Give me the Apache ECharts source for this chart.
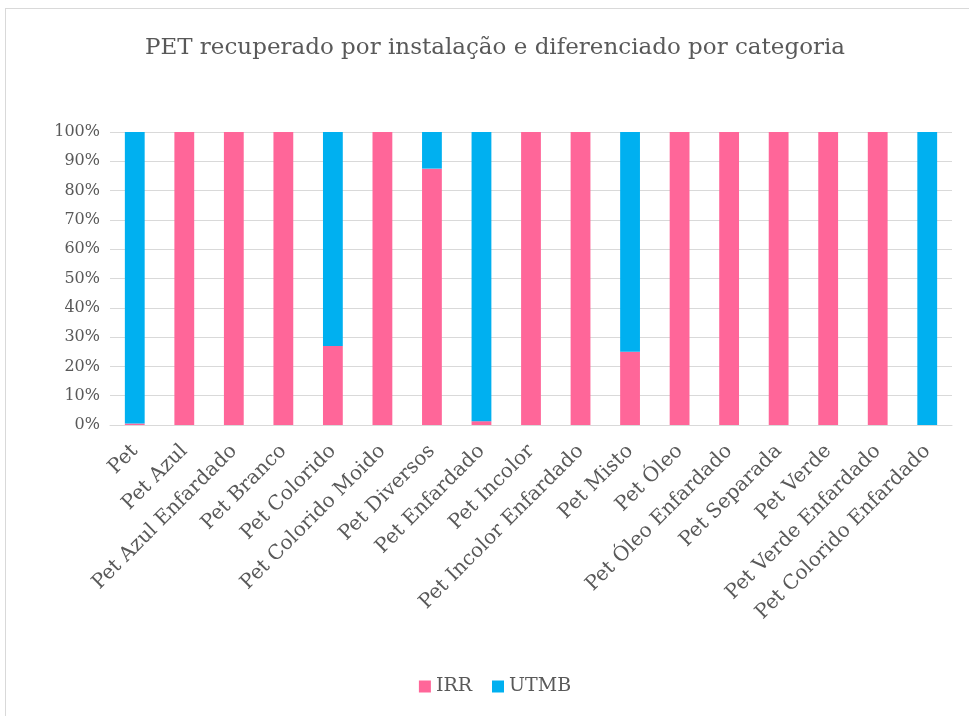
<!DOCTYPE html>
<html>
<head>
<meta charset="utf-8">
<script src="https://cdn.jsdelivr.net/npm/echarts@6/dist/echarts.min.js"></script>
<style>
  html, body { margin: 0; padding: 0; background: #fff; overflow: hidden; }
  #frame { position: absolute; left: 5px; top: 8px; width: 980px; height: 720px; border: 1px solid #d9d9d9; box-sizing: border-box; }
  #chart { position: absolute; left: 0; top: 0; width: 990px; height: 716px; }
</style>
</head>
<body>
<div id="frame"></div>
<div id="chart"></div>
<script>
const categories = [
  'Pet', 'Pet Azul', 'Pet Azul Enfardado', 'Pet Branco', 'Pet Colorido',
  'Pet Colorido Moido', 'Pet Diversos', 'Pet Enfardado', 'Pet Incolor',
  'Pet Incolor Enfardado', 'Pet Misto', 'Pet Óleo', 'Pet Óleo Enfardado',
  'Pet Separada', 'Pet Verde', 'Pet Verde Enfardado', 'Pet Colorido Enfardado'
]
const irr = [0.5, 100, 100, 100, 27, 100, 87.5, 1.3, 100, 100, 25, 100, 100, 100, 100, 100, 0]
const utmb = [99.5, 0, 0, 0, 73, 0, 12.5, 98.7, 0, 0, 75, 0, 0, 0, 0, 0, 100]

const font = 'DejaVu Serif'
const textColor = '#595959'

const myChart = echarts.init(document.getElementById('chart'), null, { renderer: 'canvas' })

const option = {
  animation: false,
  title: {
    text: 'PET recuperado por instalação e diferenciado por categoria',
    left: 'center',
    top: 32,
    textStyle: { fontFamily: font, fontSize: 23, fontWeight: 'normal', color: textColor }
  },
  legend: {
    bottom: 15,
    left: 'center',
    itemWidth: 12,
    itemHeight: 12,
    itemGap: 20,
    icon: 'rect',
    textStyle: { fontFamily: font, fontSize: 19, color: textColor },
    data: ['IRR', 'UTMB']
  },
  grid: { left: 110, right: 38, top: 132, bottom: 291, containLabel: false },
  xAxis: {
    type: 'category',
    data: categories,
    axisTick: { show: false },
    axisLine: { lineStyle: { color: '#d9d9d9', width: 1 } },
    axisLabel: {
      rotate: 45,
      interval: 0,
      margin: 23,
      fontFamily: font,
      fontSize: 20,
      color: textColor
    }
  },
  yAxis: {
    type: 'value',
    min: 0,
    max: 100,
    interval: 10,
    axisLine: { show: false },
    axisTick: { show: false },
    splitLine: { lineStyle: { color: '#d9d9d9', width: 1 } },
    axisLabel: {
      formatter: '{value}%',
      margin: 10,
      fontFamily: font,
      fontSize: 16,
      color: textColor
    }
  },
  series: [
    {
      name: 'IRR',
      type: 'bar',
      stack: 'total',
      barWidth: '40%',
      itemStyle: { color: '#ff6699' },
      data: irr
    },
    {
      name: 'UTMB',
      type: 'bar',
      stack: 'total',
      barWidth: '40%',
      itemStyle: { color: '#00b0f0' },
      data: utmb
    }
  ]
}

myChart.setOption(option)
</script>
</body>
</html>
